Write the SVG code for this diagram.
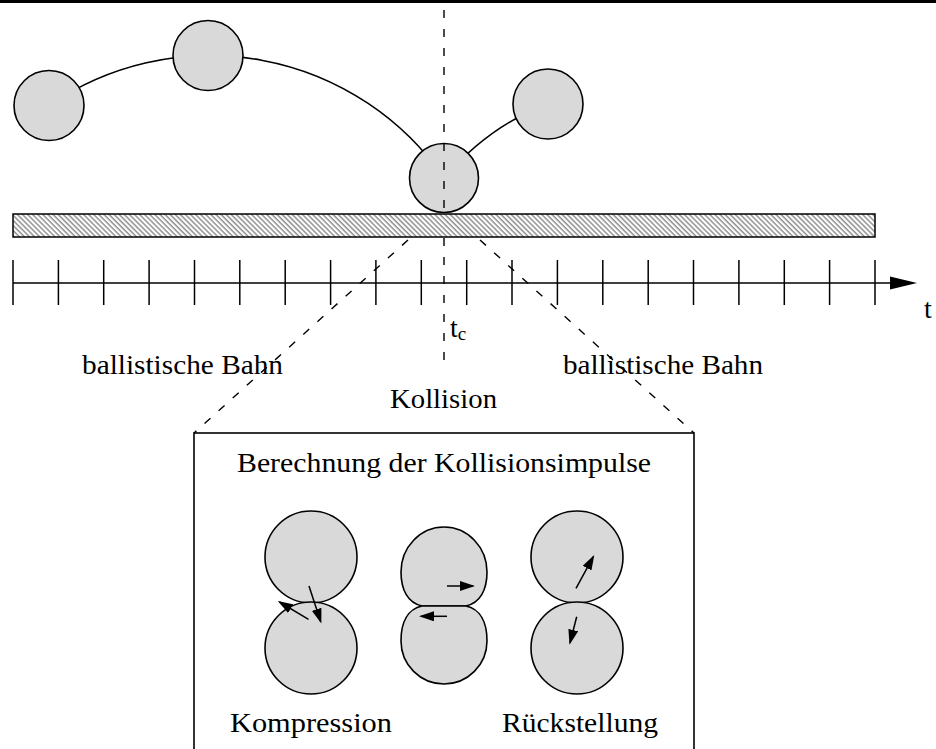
<svg xmlns="http://www.w3.org/2000/svg" width="936" height="749" viewBox="0 0 936 749">
  <style>
    .ball { fill: #d9d9d9; stroke: #000; stroke-width: 1.6; }
    .curve { fill: none; stroke: #000; stroke-width: 1.5; }
    .dash { fill: none; stroke: #000; stroke-width: 1.4; stroke-dasharray: 8 11; }
    .axis { stroke: #000; stroke-width: 1.5; fill: none; }
    .vec { stroke: #000; stroke-width: 1.5; fill: none; marker-end: url(#head); }
    .lbl { font-family: "Liberation Serif", "Times New Roman", serif; font-size: 28px; fill: #000; }
  </style>
  <defs>
    <pattern id="hatch" width="3.6" height="10" patternUnits="userSpaceOnUse" patternTransform="rotate(-45)">
      <line x1="1" y1="0" x2="1" y2="10" stroke="#222" stroke-width="0.8"/>
    </pattern>
    <marker id="head" markerUnits="userSpaceOnUse" markerWidth="15" markerHeight="10" refX="13" refY="5" orient="auto">
      <path d="M0,0 L15,5 L0,10 Z" fill="#000"/>
    </marker>
  </defs>

  <rect width="936" height="749" fill="#fff"/>
  <!-- page edge -->
  <rect x="0" y="0" width="936" height="3" fill="#000"/>

  <!-- trajectory curves (drawn beneath the balls) -->
  <g id="connectors">
    <path class="curve" d="M49,105.5 A284.5,284.5 0 0 1 444,178"/>
    <path class="curve" d="M444,178 Q490,125 548,104"/>
  </g>

  <g id="ball-1"><circle class="ball" cx="49" cy="105.5" r="35"/></g>
  <g id="ball-2"><circle class="ball" cx="208" cy="55.5" r="35"/></g>
  <g id="ball-3"><circle class="ball" cx="444" cy="178" r="34.5"/></g>
  <g id="ball-4"><circle class="ball" cx="548" cy="104" r="35"/></g>

  <!-- collision instant and zoom guides, drawn over the balls -->
  <g id="guides">
    <line class="dash" x1="444" y1="10" x2="444" y2="365"/>
    <line class="dash" x1="408" y1="240" x2="194" y2="433"/>
    <line class="dash" x1="480" y1="240" x2="694" y2="433"/>
  </g>

  <g id="ground">
    <rect x="13" y="214" width="862" height="23" fill="#fff"/>
    <rect x="13" y="214" width="862" height="23" fill="url(#hatch)" stroke="#000" stroke-width="1.5"/>
  </g>

  <g id="time-axis">
    <line class="axis" x1="13" y1="283" x2="900" y2="283"/>
    <polygon points="890,276.5 917,283 890,289.5" fill="#000"/>
    <g class="axis">
      <line x1="13" y1="260" x2="13" y2="305"/>
      <line x1="58.4" y1="260" x2="58.4" y2="305"/>
      <line x1="103.7" y1="260" x2="103.7" y2="305"/>
      <line x1="149.1" y1="260" x2="149.1" y2="305"/>
      <line x1="194.5" y1="260" x2="194.5" y2="305"/>
      <line x1="239.8" y1="260" x2="239.8" y2="305"/>
      <line x1="285.2" y1="260" x2="285.2" y2="305"/>
      <line x1="330.6" y1="260" x2="330.6" y2="305"/>
      <line x1="375.9" y1="260" x2="375.9" y2="305"/>
      <line x1="421.3" y1="260" x2="421.3" y2="305"/>
      <line x1="466.7" y1="260" x2="466.7" y2="305"/>
      <line x1="512" y1="260" x2="512" y2="305"/>
      <line x1="557.4" y1="260" x2="557.4" y2="305"/>
      <line x1="602.8" y1="260" x2="602.8" y2="305"/>
      <line x1="648.2" y1="260" x2="648.2" y2="305"/>
      <line x1="693.5" y1="260" x2="693.5" y2="305"/>
      <line x1="738.9" y1="260" x2="738.9" y2="305"/>
      <line x1="784.3" y1="260" x2="784.3" y2="305"/>
      <line x1="829.6" y1="260" x2="829.6" y2="305"/>
      <line x1="875" y1="260" x2="875" y2="305"/>
    </g>
    <text class="lbl" x="924" y="318">t</text>
    <text class="lbl" x="450" y="337">t<tspan font-size="19" dy="3">c</tspan></text>
  </g>

  <g id="phase-labels">
    <text class="lbl" x="82" y="374" textLength="201" lengthAdjust="spacingAndGlyphs">ballistische Bahn</text>
    <text class="lbl" x="563" y="374" textLength="200" lengthAdjust="spacingAndGlyphs">ballistische Bahn</text>
    <text class="lbl" x="390" y="408" textLength="107" lengthAdjust="spacingAndGlyphs">Kollision</text>
  </g>

  <g id="impulse-box">
    <rect x="194" y="433" width="500" height="330" fill="none" stroke="#000" stroke-width="1.6"/>
    <text class="lbl" x="237" y="472" textLength="414" lengthAdjust="spacingAndGlyphs">Berechnung der Kollisionsimpulse</text>
  </g>

  <g id="compression">
    <circle class="ball" cx="311" cy="557" r="46"/>
    <circle class="ball" cx="311" cy="648" r="46"/>
    <line class="vec" x1="309" y1="586" x2="320.7" y2="621.7"/>
    <line class="vec" x1="308.5" y1="619.3" x2="279.5" y2="602"/>
    <text class="lbl" x="230" y="732" textLength="162" lengthAdjust="spacingAndGlyphs">Kompression</text>
  </g>

  <g id="deformation">
    <path class="ball" d="M422,606 L466,606 C480,603 487,590 487,572 A43,45 0 0 0 401,572 C401,590 408,603 422,606 Z"/>
    <path class="ball" d="M422,606 L466,606 C480,609 487,622 487,641 A43,43 0 0 1 401,641 C401,622 408,609 422,606 Z"/>
    <line class="vec" x1="447" y1="586" x2="473" y2="586"/>
    <line class="vec" x1="447" y1="616.3" x2="421" y2="616.3"/>
  </g>

  <g id="restitution">
    <circle class="ball" cx="577" cy="557" r="46"/>
    <circle class="ball" cx="577" cy="648" r="46"/>
    <line class="vec" x1="576" y1="588.3" x2="593.3" y2="556.7"/>
    <line class="vec" x1="576.7" y1="616.7" x2="570" y2="642.7"/>
    <text class="lbl" x="502" y="732" textLength="156" lengthAdjust="spacingAndGlyphs">Rückstellung</text>
  </g>
</svg>
